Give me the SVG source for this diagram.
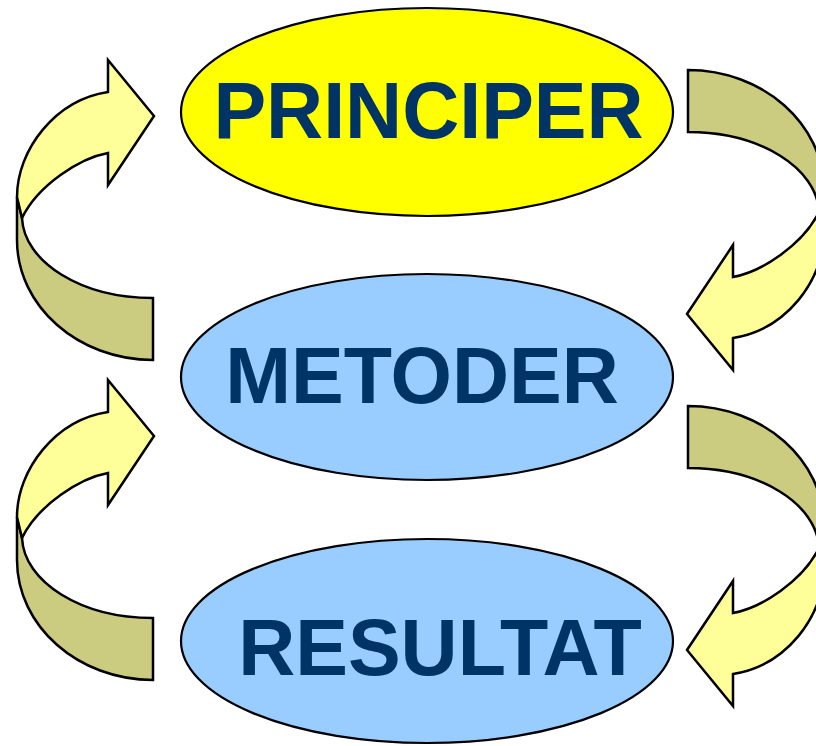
<svg xmlns="http://www.w3.org/2000/svg" xmlns:xlink="http://www.w3.org/1999/xlink" width="816" height="746" viewBox="0 0 816 746">
<style>
.node ellipse{stroke:#000;stroke-width:2.2}
.lbl{font-family:"Liberation Sans",Arial,sans-serif;font-weight:bold;font-size:79px;fill:#003366;text-anchor:middle}
.front{fill:#FFFF99;stroke:#000;stroke-width:2.5;stroke-linejoin:miter}
.back{fill:#CCCC80;stroke:#000;stroke-width:2.5;stroke-linejoin:miter}
</style>
<defs>
<g id="curved">
<path class="back" d="M17,197 L22,218 C24,262 81,298 153,298 L153,360 C78,360 17,306 17,240 Z"/>
<path class="front" d="M17,197 C17,150 55,100 108,92 L108,60 L154,116 L108,185 L108,153 C80,158 38,185 22,218 Z"/>
</g>
</defs>
<rect width="816" height="746" fill="#fff"/>
<g id="connectors">
<use id="arrow-metoder-principer" xlink:href="#curved"/>
<use id="arrow-resultat-metoder" xlink:href="#curved" transform="translate(0,320)"/>
<use id="arrow-principer-metoder" xlink:href="#curved" transform="rotate(180 420.5 215)"/>
<use id="arrow-metoder-resultat" xlink:href="#curved" transform="translate(0,336) rotate(180 420.5 215)"/>
</g>
<g id="principer" class="node">
<ellipse cx="427" cy="112" rx="246" ry="104" fill="#FFFF00"/>
<text class="lbl" x="428.5" y="138">PRINCIPER</text>
</g>
<g id="metoder" class="node">
<ellipse cx="427" cy="377" rx="246" ry="103" fill="#99CCFF"/>
<text class="lbl" x="422" y="403">METODER</text>
</g>
<g id="resultat" class="node">
<ellipse cx="427" cy="641" rx="246" ry="102" fill="#99CCFF"/>
<text class="lbl" x="440" y="675">RESULTAT</text>
</g>
</svg>
